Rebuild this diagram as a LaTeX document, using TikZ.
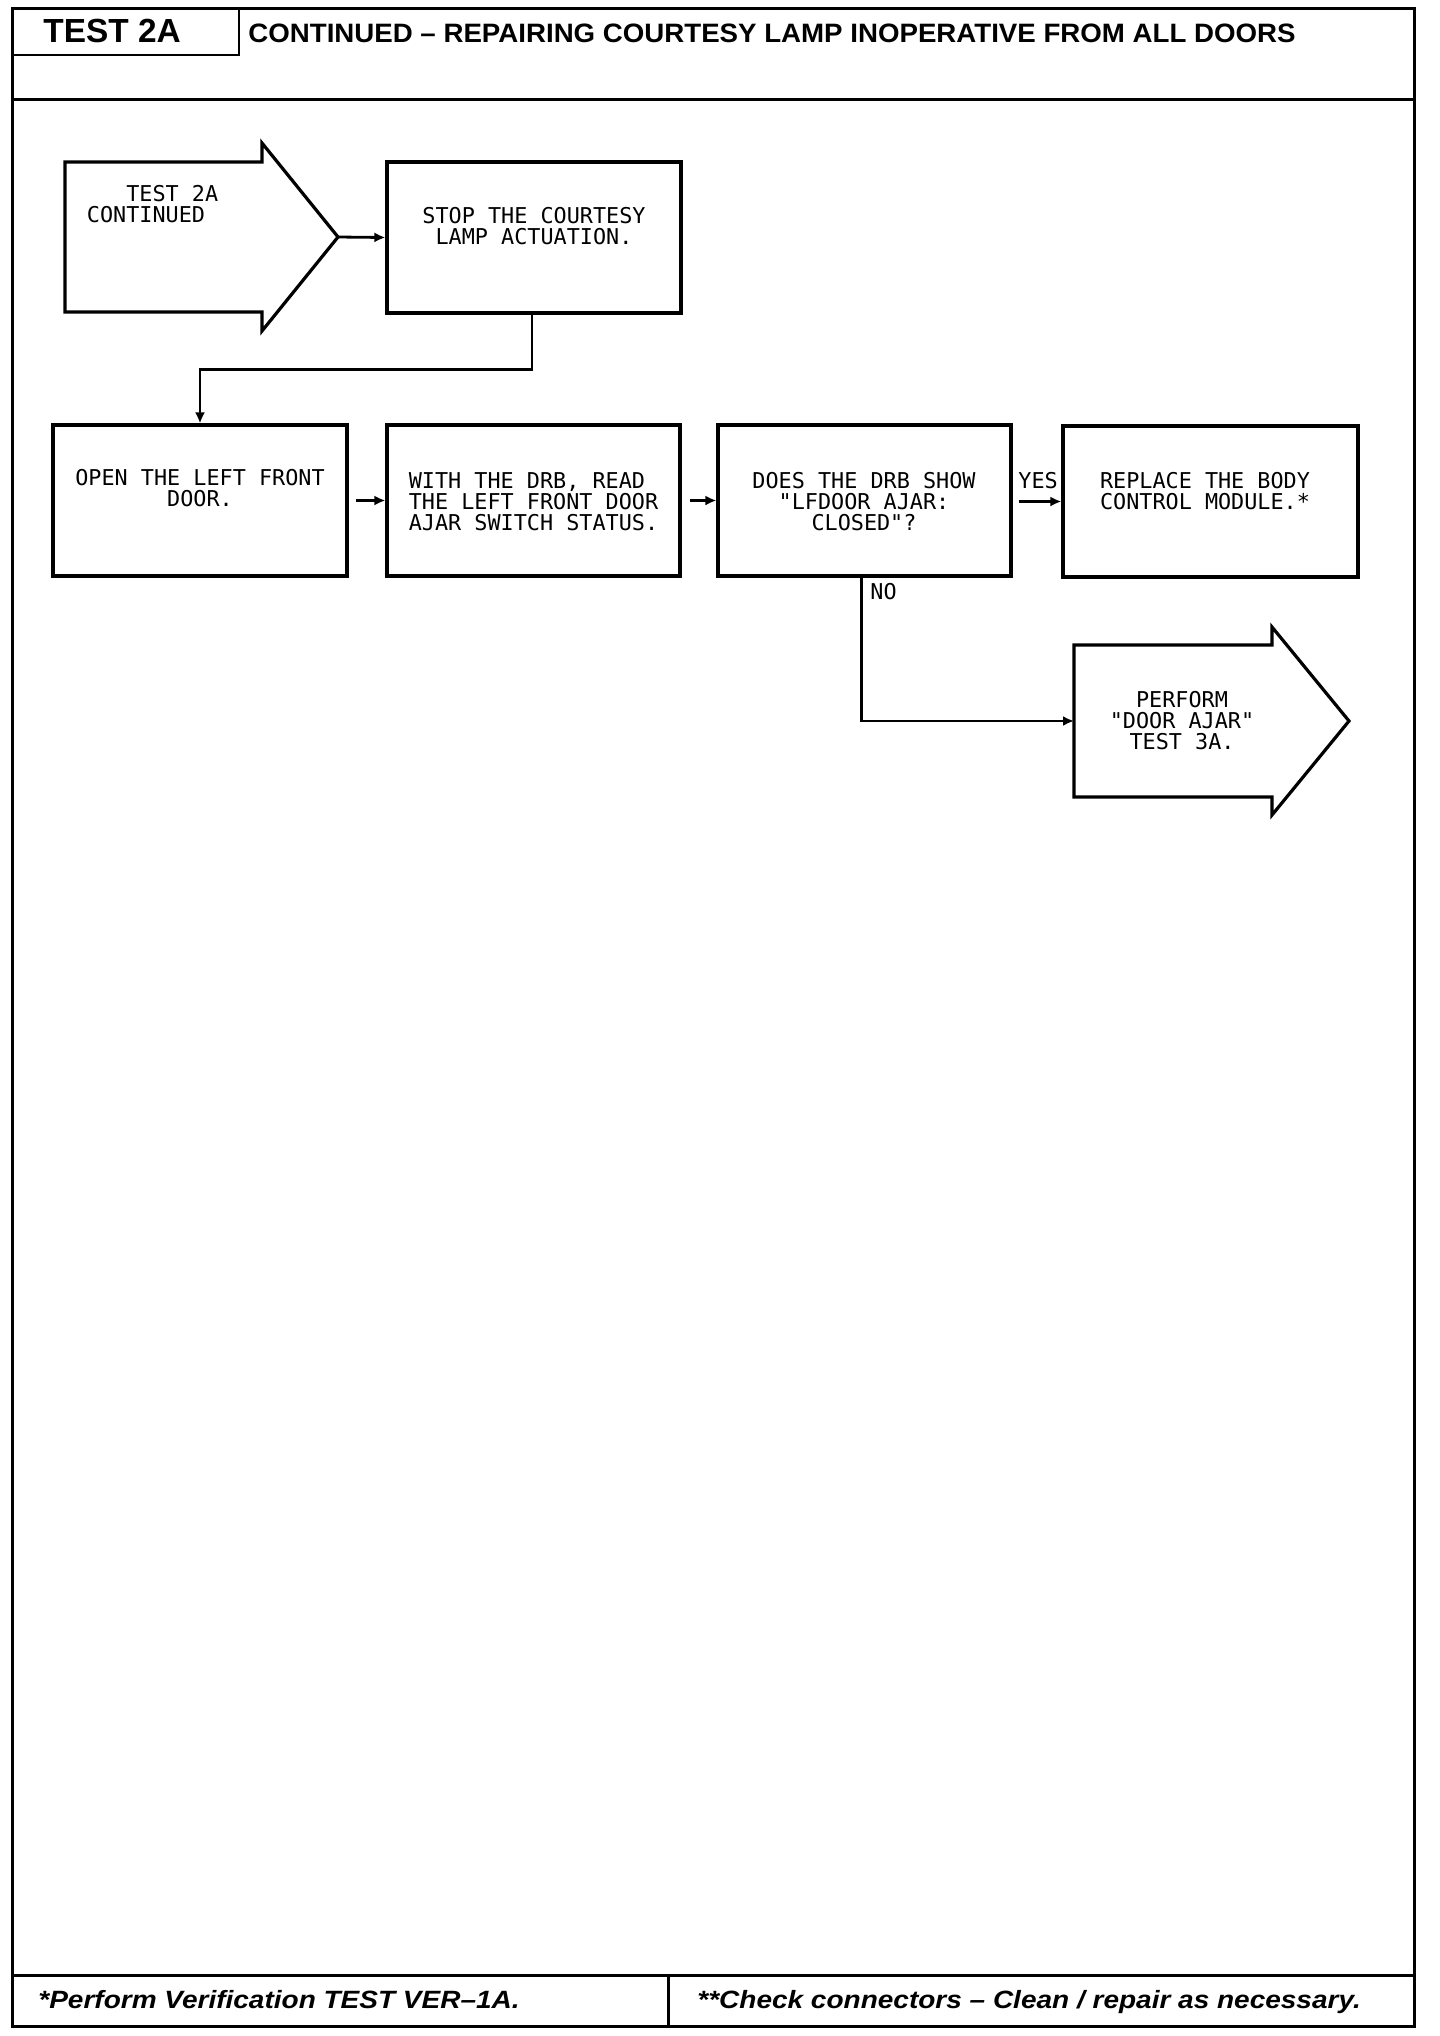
\documentclass[tikz,border=0pt]{standalone}
\usepackage{fontspec}
\newfontfamily\monof{DejaVu Sans Mono}
\newfontfamily\sansf{Liberation Sans}
\newfontfamily\sanswide{Liberation Sans}[FakeStretch=1.04]
\newfontfamily\footfont{Liberation Sans}[FakeStretch=1.12]
\usetikzlibrary{arrows.meta}
\setlength{\lineskiplimit}{-20pt}
\begin{document}
\begin{tikzpicture}[x=0.5pt,y=-0.5pt,
  frame/.style={line width=1.5pt},
  box/.style={draw,line width=1.6pt,inner sep=0pt,minimum height=75.5pt},
  txt/.style={font=\monof\fontsize{10.9}{10.6}\selectfont,inner sep=0pt,align=center,anchor=north},
  lbl/.style={font=\monof\fontsize{10.9}{10.6}\selectfont,inner sep=0pt,anchor=north west},
  shapeline/.style={line width=1.6pt,line join=miter},
  conn/.style={line width=1.4pt,-{Latex[length=5.5pt,width=5pt]}},
  headtxt/.style={inner sep=0pt,anchor=base west}]
\fill[white] (0,0) rectangle (1440,2036);
\useasboundingbox (0,0) rectangle (1440,2036);
% frame
\draw[frame] (12,8) rectangle (1414,2026);
\draw[frame] (12,99) -- (1414,99);
\draw[frame] (12,1975) -- (1414,1975);
\draw[frame] (668,1975) -- (668,2026);
\draw[line width=1pt] (239,8) -- (239,55) -- (12,55);
% header texts
\node[headtxt,font=\sansf\bfseries\fontsize{16.7}{20}\selectfont] (ttl) at (43,42.7) {TEST 2A};
\node[headtxt,font=\sanswide\bfseries\fontsize{13.3}{16}\selectfont] (head) at (248,42) {CONTINUED – REPAIRING COURTESY LAMP INOPERATIVE FROM ALL DOORS};
% footer texts
\node[headtxt,font=\footfont\bfseries\itshape\fontsize{12.5}{15}\selectfont] (foot1) at (38,2008) {*Perform Verification TEST VER–1A.};
\node[headtxt,font=\footfont\bfseries\itshape\fontsize{12.5}{15}\selectfont] (foot2) at (697,2008) {**Check connectors – Clean / repair as necessary.};
% start arrow shape
\draw[shapeline] (65,162) -- (262,162) -- (262,143) -- (338,237) -- (262,331) -- (262,312) -- (65,312) -- cycle;
\coordinate (starttip) at (338,237);
\node[txt,align=left,anchor=north west] (starttxt) at (86.5,185) {\hphantom{TES}TEST 2A\\CONTINUED};
% boxes
\node[box,minimum width=147pt] (stop) at (534,237.5) {};
\node[box,minimum width=147pt] (open) at (200,500.5) {};
\node[box,minimum width=146.5pt] (with) at (533.5,500.5) {};
\node[box,minimum width=146.5pt] (does) at (864.5,500.5) {};
\node[box,minimum width=147.5pt] (repl) at (1210.5,501.5) {};
% perform arrow shape
\draw[shapeline] (1074,645) -- (1272,645) -- (1272,627) -- (1349,721) -- (1272,815) -- (1272,797) -- (1074,797) -- cycle;
\coordinate (perfw) at (1074,721);
% box texts
\node[txt] (stoptxt) at (534,207) {STOP THE COURTESY\\LAMP ACTUATION.};
\node[txt] (opentxt) at (200,469) {OPEN THE LEFT FRONT\\DOOR.};
\node[txt,align=left] (withtxt) at (533.5,472) {WITH THE DRB, READ\\THE LEFT FRONT DOOR\\AJAR SWITCH STATUS.};
\node[txt] (doestxt) at (864,472) {DOES THE DRB SHOW\\"LFDOOR AJAR:\\CLOSED"?};
\node[txt] (repltxt) at (1205,472) {REPLACE THE BODY\\CONTROL MODULE.*};
\node[txt] (perftxt) at (1182,691) {PERFORM\\"DOOR AJAR"\\TEST 3A.};
% labels
\node[lbl] (yes) at (1018,472) {YES};
\node[lbl] (no) at (870,583) {NO};
% connectors
\draw[conn] (starttip) -- (stop.west);
\draw[conn] ([xshift=-1pt]stop.south) -- ++(0,55) -| (open.north);
\draw[conn,shorten <=3.5pt] (open.east) -- (with.west);
\draw[conn,shorten <=4pt] (with.east) -- (does.west);
\draw[conn,shorten <=3pt] (does.east |- repl.west) -- (repl.west);
\draw[conn] ([xshift=-1.5pt]does.south) |- (perfw);
\end{tikzpicture}
\end{document}
